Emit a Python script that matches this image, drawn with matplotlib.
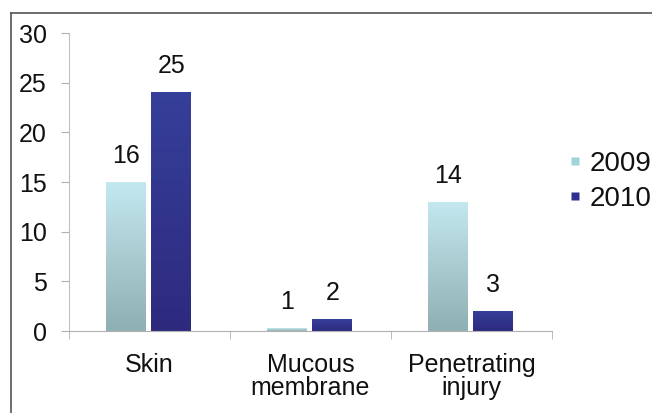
import numpy as np
import matplotlib.pyplot as plt
from matplotlib.colors import LinearSegmentedColormap
from matplotlib.lines import Line2D

plt.rcParams['font.family'] = ['Liberation Sans', 'DejaVu Sans']

# data
categories = ['Skin', 'Mucous\nmembrane', 'Penetrating\ninjury']
years = ['2009', '2010']
heights_2009 = [15.0, 0.3, 13.0]
heights_2010 = [24.1, 1.2, 2.0]
labels_2009 = ['16', '1', '14']
labels_2010 = ['25', '2', '3']
yticks = [0, 5, 10, 15, 20, 25, 30]

fig = plt.figure(figsize=(6.52, 4.13), dpi=100)
ax = fig.add_axes([0.1058, 0.1985, 0.7408, 0.7215])

x = np.arange(len(categories))
width = 0.245
grad_2009 = LinearSegmentedColormap.from_list('g09', ['#8fb0b2', '#c3e8ef'])
grad_2010 = LinearSegmentedColormap.from_list('g10', ['#2d2a7e', '#363f99'])

bars_a = ax.bar(x - 0.145, heights_2009, width, color='none', edgecolor='none')
bars_b = ax.bar(x + 0.135, heights_2010, width, color='none', edgecolor='none')

# gradient fill for every bar
grad = np.linspace(0, 1, 256).reshape(-1, 1)
for bars, cmap in [(bars_a, grad_2009), (bars_b, grad_2010)]:
    for b in bars:
        x0, y0 = b.get_x(), b.get_y()
        w, h = b.get_width(), b.get_height()
        im = ax.imshow(grad, cmap=cmap, origin='lower', aspect='auto',
                       extent=[x0, x0 + w, y0, y0 + h], zorder=2)
        im.set_clip_path(b)

for bars, labs in [(bars_a, labels_2009), (bars_b, labels_2010)]:
    for b, lab in zip(bars, labs):
        ax.annotate(lab, (b.get_x() + b.get_width() / 2, b.get_height()),
                    xytext=(0, 10), textcoords='offset points',
                    ha='center', va='bottom', fontsize=18, color='#111111')

ax.set_xlim(-0.5, 2.5)
ax.set_ylim(0, 30)
ax.set_yticks(yticks)
ax.set_xticks(x)
ax.set_xticklabels(categories, fontsize=18, color='#111111', linespacing=0.95)
ax.set_xticks([-0.5, 0.5, 1.5, 2.5], minor=True)
ax.tick_params(axis='x', which='major', length=0, pad=16)
ax.tick_params(axis='x', which='minor', length=6, color='#b0b0b0', direction='out')
ax.tick_params(axis='y', length=6, color='#b0b0b0', labelsize=18,
               labelcolor='#111111', pad=10)

for s in ['top', 'right']:
    ax.spines[s].set_visible(False)
ax.spines['left'].set_color('#c0c0c0')
ax.spines['bottom'].set_color('#b0b0b0')

# legend
handles = [Line2D([], [], marker='s', linestyle='none', markersize=6,
                  markerfacecolor='#9fd4da', markeredgecolor='none'),
           Line2D([], [], marker='s', linestyle='none', markersize=6,
                  markerfacecolor='#2f3090', markeredgecolor='none')]
fig.legend(handles, years, loc='center left', bbox_to_anchor=(0.872, 0.5605),
           frameon=False, fontsize=20, handlelength=0.45, handletextpad=0.3,
           labelspacing=0.33, borderpad=0, borderaxespad=0,
           labelcolor='#111111')

# outer frame (left and top edges)
fig.add_artist(Line2D([0.017, 0.017], [0.0, 0.969], color='#555555', lw=1.2))
fig.add_artist(Line2D([0.017, 1.0], [0.969, 0.969], color='#555555', lw=1.2))

fig.savefig('out.png', dpi=100)
